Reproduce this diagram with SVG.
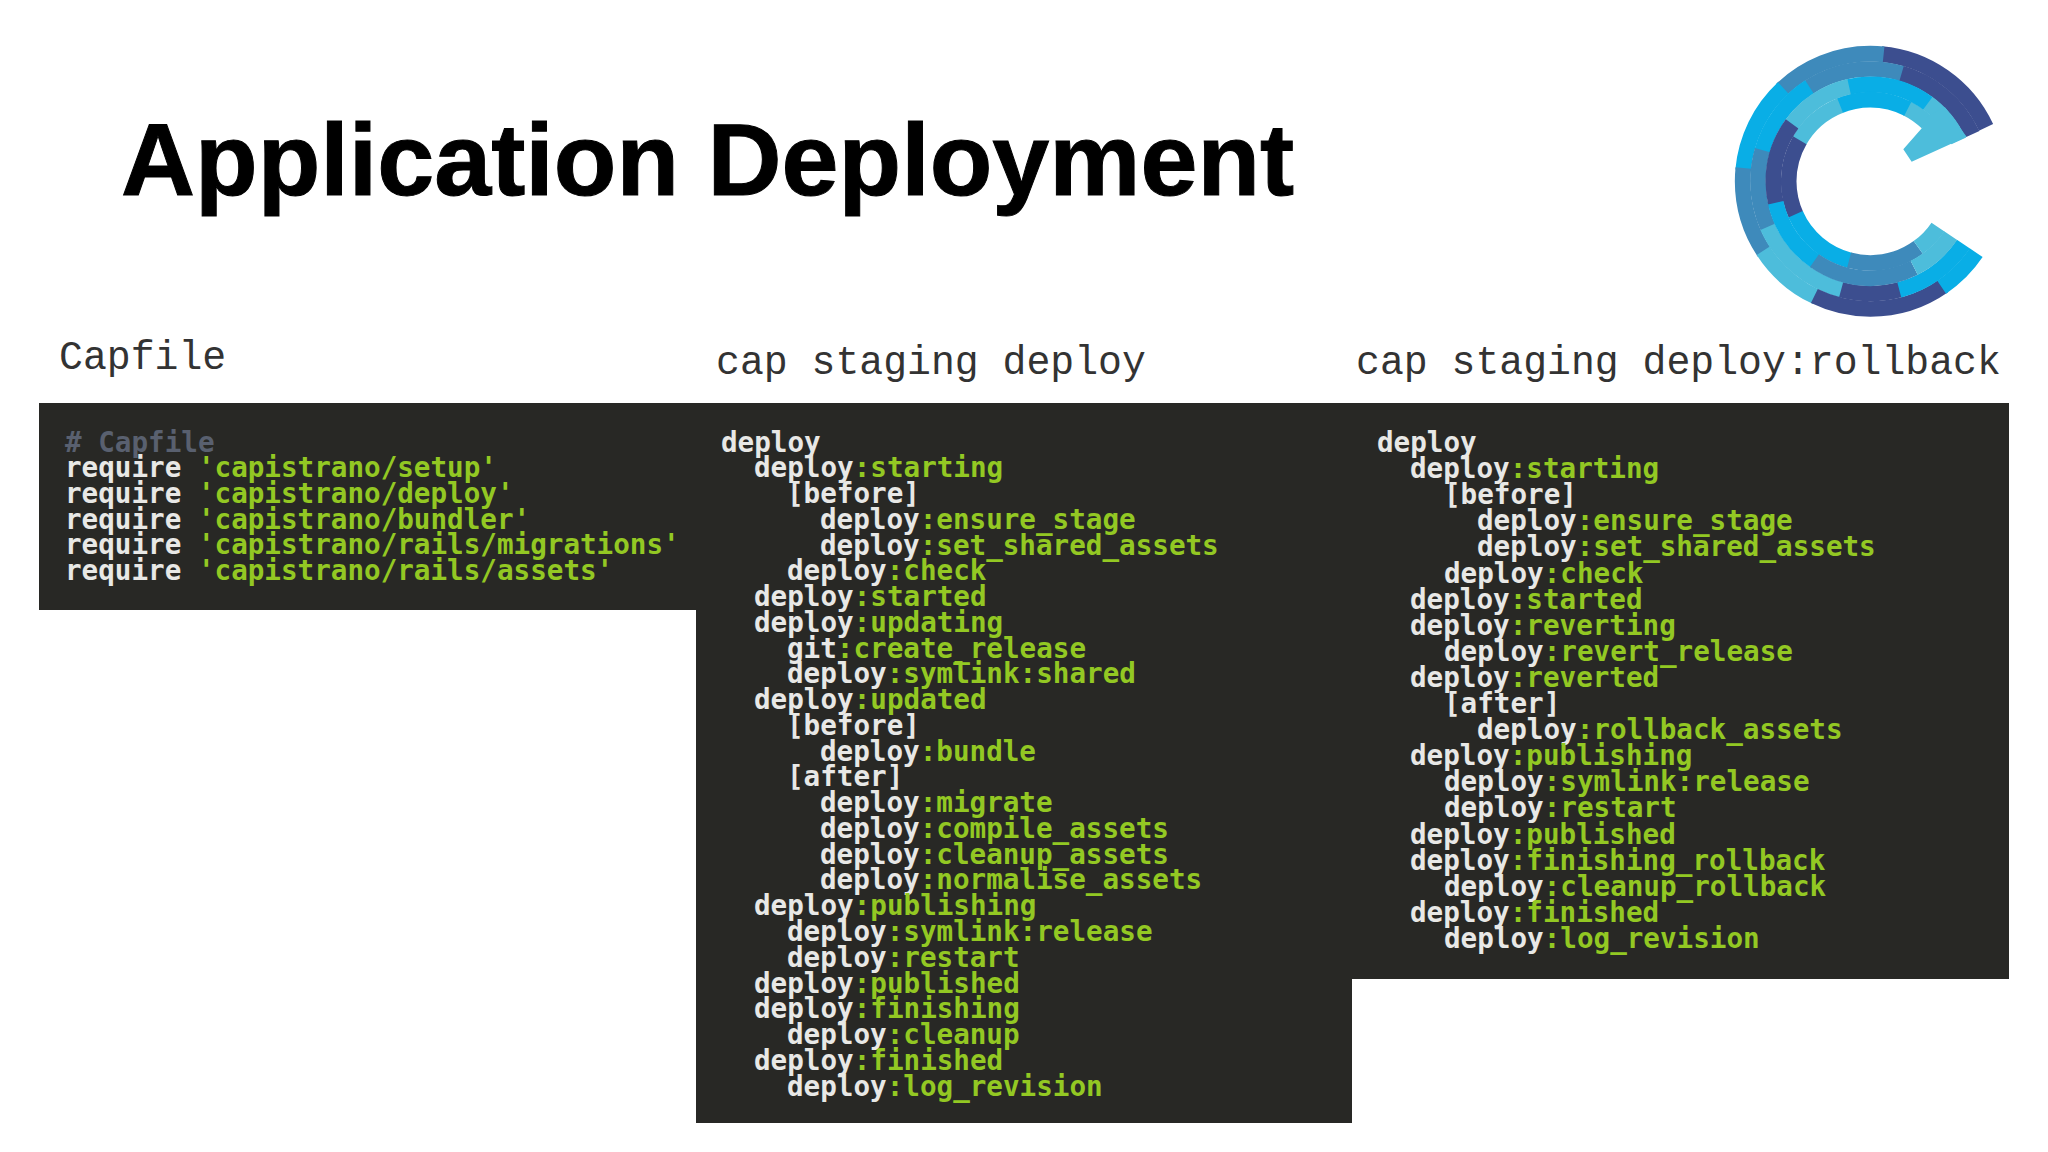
<svg xmlns="http://www.w3.org/2000/svg" width="2048" height="1152" viewBox="0 0 2048 1152">
<style>
.title{font:bold 102.5px "Liberation Sans",Arial,sans-serif;fill:#000;stroke:#000;stroke-width:1}
.label{font:39.8px "Liberation Mono","Courier New",monospace;fill:#333}
.panel{fill:#282825}
.code{font:bold 27.6px "DejaVu Sans Mono",monospace;fill:#e8e8e6}
.g{fill:#93c823}
.c{fill:#59606f}
circle{fill:none}
.n{stroke:#3c4e8f}.m{stroke:#3e8abb}.b{stroke:#09aee6}.y{stroke:#4dbddb}
.A,.B,.C,.D{stroke-width:47}
</style>
<rect width="2048" height="1152" fill="#fff"/>
<text class="title" x="121" y="195">Application Deployment</text>
<g id="logo" transform="translate(1700 20) scale(0.3333)">
<g transform="translate(511 484)">
<circle class="A n" r="383" pathLength="360" stroke-dasharray="60 360" stroke-dashoffset="-275"/>
<circle class="B n" r="337" pathLength="360" stroke-dasharray="50 360" stroke-dashoffset="-285"/>
<circle class="A m" r="383" pathLength="360" stroke-dasharray="50 360" stroke-dashoffset="-226"/>
<circle class="B m" r="337" pathLength="360" stroke-dasharray="50 360" stroke-dashoffset="-236"/>
<circle class="A b" r="383" pathLength="360" stroke-dasharray="42 360" stroke-dashoffset="-185"/>
<circle class="B b" r="337" pathLength="360" stroke-dasharray="42 360" stroke-dashoffset="-195"/>
<circle class="A m" r="383" pathLength="360" stroke-dasharray="40 360" stroke-dashoffset="-146"/>
<circle class="B m" r="337" pathLength="360" stroke-dasharray="41 360" stroke-dashoffset="-155"/>
<circle class="A y" r="383" pathLength="360" stroke-dasharray="32 360" stroke-dashoffset="-115"/>
<circle class="B y" r="337" pathLength="360" stroke-dasharray="52 360" stroke-dashoffset="-104"/>
<circle class="A n" r="383" pathLength="360" stroke-dasharray="61 360" stroke-dashoffset="-55"/>
<circle class="B n" r="337" pathLength="360" stroke-dasharray="31 360" stroke-dashoffset="-74"/>
<circle class="A b" r="383" pathLength="360" stroke-dasharray="22 360" stroke-dashoffset="-34"/>
<circle class="B b" r="337" pathLength="360" stroke-dasharray="41 360" stroke-dashoffset="-34"/>
<circle class="C y" r="291" pathLength="360" stroke-dasharray="30 360" stroke-dashoffset="-305"/>
<circle class="D y" r="245" pathLength="360" stroke-dasharray="18 360" stroke-dashoffset="-296"/>
<circle class="C b" r="291" pathLength="360" stroke-dasharray="50 360" stroke-dashoffset="-256"/>
<circle class="D b" r="245" pathLength="360" stroke-dasharray="50 360" stroke-dashoffset="-247"/>
<circle class="C y" r="291" pathLength="360" stroke-dasharray="42 360" stroke-dashoffset="-215"/>
<circle class="D y" r="245" pathLength="360" stroke-dasharray="39 360" stroke-dashoffset="-209"/>
<circle class="C n" r="291" pathLength="360" stroke-dasharray="50 360" stroke-dashoffset="-166"/>
<circle class="D n" r="245" pathLength="360" stroke-dasharray="55 360" stroke-dashoffset="-155"/>
<circle class="C b" r="291" pathLength="360" stroke-dasharray="43 360" stroke-dashoffset="-124"/>
<circle class="D b" r="245" pathLength="360" stroke-dasharray="52 360" stroke-dashoffset="-104"/>
<circle class="C m" r="291" pathLength="360" stroke-dasharray="62 360" stroke-dashoffset="-63"/>
<circle class="D m" r="245" pathLength="360" stroke-dasharray="51 360" stroke-dashoffset="-54"/>
<circle class="C y" r="291" pathLength="360" stroke-dasharray="29 360" stroke-dashoffset="-34"/>
<circle class="D y" r="245" pathLength="360" stroke-dasharray="20 360" stroke-dashoffset="-34"/>
</g>
<polygon points="668,322 610,388 635,425 800,350 735,262 680,290" fill="#4dbddb"/>
</g>
<text class="label" x="59" y="369">Capfile</text>
<text class="label" x="716" y="374">cap staging deploy</text>
<text class="label" x="1356" y="374">cap staging deploy:rollback</text>
<rect class="panel" x="39" y="403" width="657" height="207"/>
<rect class="panel" x="696" y="403" width="656" height="720"/>
<rect class="panel" x="1352" y="403" width="657" height="576"/>
<g id="capfile" class="code">
<text x="65" y="451.5" class="c"># Capfile</text>
<text x="65" y="477.2">require <tspan class="g">'capistrano/setup'</tspan></text>
<text x="65" y="502.9">require <tspan class="g">'capistrano/deploy'</tspan></text>
<text x="65" y="528.6">require <tspan class="g">'capistrano/bundler'</tspan></text>
<text x="65" y="554.3">require <tspan class="g">'capistrano/rails/migrations'</tspan></text>
<text x="65" y="580">require <tspan class="g">'capistrano/rails/assets'</tspan></text>
</g>
<g id="deploy" class="code" transform="translate(0 1.5)">
<text x="721" y="450">deploy</text>
<text x="754" y="475.8">deploy<tspan class="g">:starting</tspan></text>
<text x="787" y="501.5">[before]</text>
<text x="820" y="527.3">deploy<tspan class="g">:ensure_stage</tspan></text>
<text x="820" y="553">deploy<tspan class="g">:set_shared_assets</tspan></text>
<text x="787" y="578.8">deploy<tspan class="g">:check</tspan></text>
<text x="754" y="604.6">deploy<tspan class="g">:started</tspan></text>
<text x="754" y="630.3">deploy<tspan class="g">:updating</tspan></text>
<text x="787" y="656.1">git<tspan class="g">:create_release</tspan></text>
<text x="787" y="681.8">deploy<tspan class="g">:symlink:shared</tspan></text>
<text x="754" y="707.6">deploy<tspan class="g">:updated</tspan></text>
<text x="787" y="733.4">[before]</text>
<text x="820" y="759.1">deploy<tspan class="g">:bundle</tspan></text>
<text x="787" y="784.9">[after]</text>
<text x="820" y="810.6">deploy<tspan class="g">:migrate</tspan></text>
<text x="820" y="836.4">deploy<tspan class="g">:compile_assets</tspan></text>
<text x="820" y="862.2">deploy<tspan class="g">:cleanup_assets</tspan></text>
<text x="820" y="887.9">deploy<tspan class="g">:normalise_assets</tspan></text>
<text x="754" y="913.7">deploy<tspan class="g">:publishing</tspan></text>
<text x="787" y="939.4">deploy<tspan class="g">:symlink:release</tspan></text>
<text x="787" y="965.2">deploy<tspan class="g">:restart</tspan></text>
<text x="754" y="991">deploy<tspan class="g">:published</tspan></text>
<text x="754" y="1016.7">deploy<tspan class="g">:finishing</tspan></text>
<text x="787" y="1042.5">deploy<tspan class="g">:cleanup</tspan></text>
<text x="754" y="1068.2">deploy<tspan class="g">:finished</tspan></text>
<text x="787" y="1094">deploy<tspan class="g">:log_revision</tspan></text>
</g>
<g id="rollback" class="code" transform="translate(0 2)">
<text x="1377" y="450">deploy</text>
<text x="1410" y="476.1">deploy<tspan class="g">:starting</tspan></text>
<text x="1444" y="502.2">[before]</text>
<text x="1477" y="528.3">deploy<tspan class="g">:ensure_stage</tspan></text>
<text x="1477" y="554.4">deploy<tspan class="g">:set_shared_assets</tspan></text>
<text x="1444" y="580.5">deploy<tspan class="g">:check</tspan></text>
<text x="1410" y="606.6">deploy<tspan class="g">:started</tspan></text>
<text x="1410" y="632.7">deploy<tspan class="g">:reverting</tspan></text>
<text x="1444" y="658.8">deploy<tspan class="g">:revert_release</tspan></text>
<text x="1410" y="684.9">deploy<tspan class="g">:reverted</tspan></text>
<text x="1444" y="711">[after]</text>
<text x="1477" y="737.1">deploy<tspan class="g">:rollback_assets</tspan></text>
<text x="1410" y="763.2">deploy<tspan class="g">:publishing</tspan></text>
<text x="1444" y="789.3">deploy<tspan class="g">:symlink:release</tspan></text>
<text x="1444" y="815.4">deploy<tspan class="g">:restart</tspan></text>
<text x="1410" y="841.5">deploy<tspan class="g">:published</tspan></text>
<text x="1410" y="867.6">deploy<tspan class="g">:finishing_rollback</tspan></text>
<text x="1444" y="893.7">deploy<tspan class="g">:cleanup_rollback</tspan></text>
<text x="1410" y="919.8">deploy<tspan class="g">:finished</tspan></text>
<text x="1444" y="945.9">deploy<tspan class="g">:log_revision</tspan></text>
</g>
</svg>
